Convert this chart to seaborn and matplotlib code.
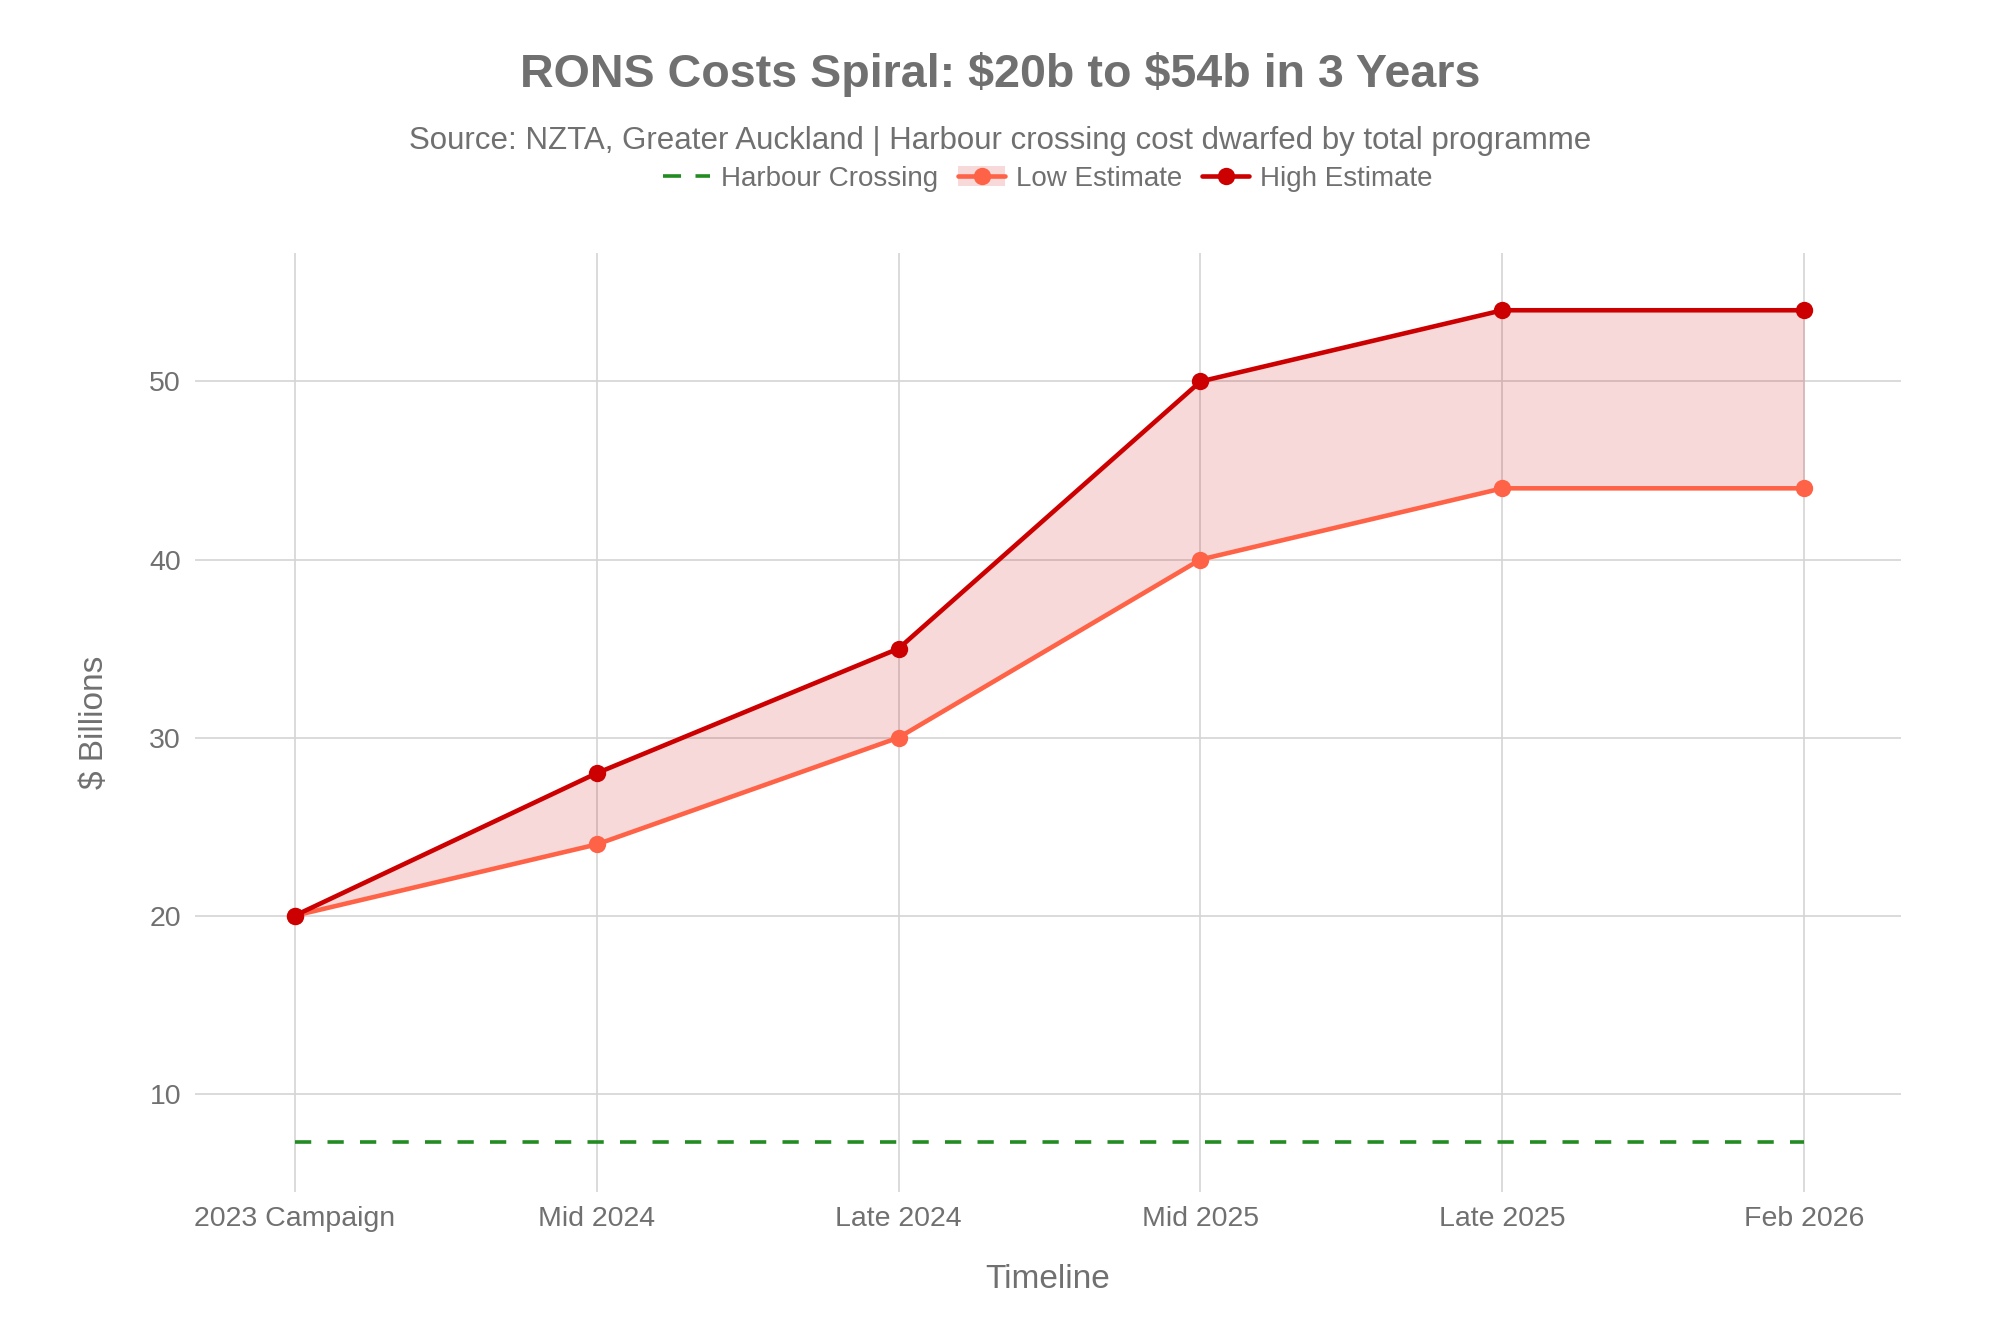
import pandas as pd
import seaborn as sns
import matplotlib.pyplot as plt
from matplotlib.lines import Line2D
from matplotlib.patches import Patch
from matplotlib.legend_handler import HandlerTuple

# Данные графика
timeline = ['2023 Campaign', 'Mid 2024', 'Late 2024', 'Mid 2025', 'Late 2025', 'Feb 2026']
low_estimate = [20, 24, 30, 40, 44, 44]
high_estimate = [20, 28, 35, 50, 54, 54]
harbour_crossing = [7.3, 7.3, 7.3, 7.3, 7.3, 7.3]

TEXT = '#707070'
LOW = '#FF6347'
HIGH = '#CC0000'
GREEN = '#228B22'


def draw_chart():
    sns.set_theme(style='white')
    plt.rcParams['font.family'] = ['Liberation Sans', 'DejaVu Sans']

    df = pd.DataFrame({
        'timeline': timeline,
        'x': range(len(timeline)),
        'low': low_estimate,
        'high': high_estimate,
        'harbour': harbour_crossing,
    })

    fig = plt.figure(figsize=(20, 13.33), dpi=100)
    ax = fig.add_axes([0.0975, 0.106, 0.853, 0.704])

    # Заливка между оценками
    ax.fill_between(df['x'], df['low'], df['high'], color=HIGH, alpha=0.15,
                    linewidth=0, zorder=1)

    sns.lineplot(data=df, x='x', y='harbour', ax=ax, color=GREEN,
                 linewidth=2.6, zorder=2)
    ax.lines[-1].set_linestyle((0, (4.5, 4.5)))
    sns.lineplot(data=df, x='x', y='low', ax=ax, color=LOW, linewidth=3.3,
                 marker='o', markersize=12.5, markeredgewidth=0, zorder=3)
    sns.lineplot(data=df, x='x', y='high', ax=ax, color=HIGH, linewidth=3.3,
                 marker='o', markersize=12.5, markeredgewidth=0, zorder=4)

    ax.set_xlim(-0.33, 5.32)
    ax.set_ylim(4.5, 57.2)
    ax.set_xticks(df['x'])
    ax.set_xticklabels(timeline)
    ax.set_yticks([10, 20, 30, 40, 50])

    ax.grid(True, color='#d4d4d4', linewidth=1.2)
    ax.set_axisbelow(True)
    for s in ax.spines.values():
        s.set_visible(False)
    ax.tick_params(axis='both', colors='#d4d4d4', labelcolor=TEXT,
                   labelsize=20.5, length=6, width=1.2, pad=4)

    ax.set_xlabel('Timeline', fontsize=24, color=TEXT, labelpad=23)
    ax.set_ylabel('\\$ Billions', fontsize=24, color=TEXT, labelpad=28)

    fig.text(0.5, 0.944, 'RONS Costs Spiral: \\$20b to \\$54b in 3 Years',
             ha='center', va='center', fontsize=33.6, fontweight='bold', color=TEXT)
    fig.text(0.5, 0.894,
             'Source: NZTA, Greater Auckland | Harbour crossing cost dwarfed by total programme',
             ha='center', va='center', fontsize=22.5, color=TEXT)

    # Легенда (по центру области графика)
    h_harbour = Line2D([], [], color=GREEN, linewidth=2.6, linestyle=(0, (5, 4)))
    h_low = (Patch(facecolor=HIGH, alpha=0.15, edgecolor='none'),
             Line2D([], [], color=LOW, linewidth=3.3, marker='o', markersize=12.5,
                    markeredgewidth=0))
    h_high = Line2D([], [], color=HIGH, linewidth=3.3, marker='o', markersize=12.5,
                    markeredgewidth=0)
    fig.legend([h_harbour, h_low, h_high],
               ['Harbour Crossing', 'Low Estimate', 'High Estimate'],
               handler_map={tuple: HandlerTuple(ndivide=1, pad=0)},
               loc='center', bbox_to_anchor=(0.0975 + 0.853 / 2, 0.866), ncol=3,
               frameon=False, fontsize=20, labelcolor=TEXT, handlelength=1.7,
               handletextpad=0.4, columnspacing=0.7)

    fig.savefig('out.png', dpi=100)


if __name__ == '__main__':
    draw_chart()
